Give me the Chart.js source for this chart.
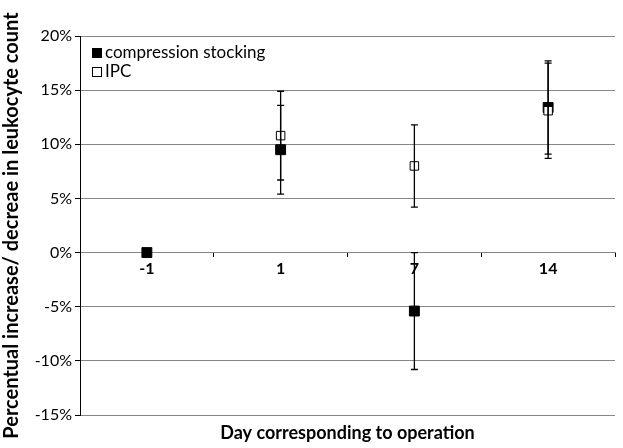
<!DOCTYPE html>
<html>
<head>
    <title>Leukocyte count</title>
    <script src="https://cdn.jsdelivr.net/npm/chart.js"></script>
    <style>
        body { margin: 0; background: #fff; }
        #wrap { position: relative; width: 623px; height: 448px; }
        .leg { position: absolute; left: 92px; font: 17px Lato, sans-serif; color: #000; line-height: 19px; }
        .leg span { display: inline-block; width: 8px; height: 8px; border: 1px solid #000; margin-right: 3px; vertical-align: 0px; }
    </style>
</head>
<body>
<div id="wrap">
    <canvas id="chart" width="623" height="448"></canvas>
    <div class="leg" style="top: 42px;"><span style="background:#000"></span>compression stocking</div>
    <div class="leg" style="top: 61px;"><span style="background:#fff"></span>IPC</div>
</div>

<script>
    const days = ['-1', '1', '7', '14'];
    const stocking = [0, 9.5, -5.4, 13.4];
    const stockingErr = [null, 4.1, 5.4, 4.3];
    const ipc = [null, 10.8, 8.0, 13.1];
    const ipcErr = [null, 4.1, 3.8, 4.4];
    const yTicks = [-15, -10, -5, 0, 5, 10, 15, 20];

    const errorBars = {
        id: 'errorBars',
        afterDatasetsDraw(chart) {
            const ctx = chart.ctx;
            const y = chart.scales.y;
            ctx.save();
            ctx.strokeStyle = '#000';
            ctx.lineWidth = 1.3;
            chart.data.datasets.forEach((ds, i) => {
                const meta = chart.getDatasetMeta(i);
                meta.data.forEach((pt, j) => {
                    const v = ds.data[j], e = ds.err[j];
                    if (v == null || e == null) return;
                    const top = y.getPixelForValue(v + e);
                    const bot = y.getPixelForValue(v - e);
                    ctx.beginPath();
                    ctx.moveTo(pt.x, top); ctx.lineTo(pt.x, bot);
                    ctx.moveTo(pt.x - 3.5, top); ctx.lineTo(pt.x + 3.5, top);
                    ctx.moveTo(pt.x - 3.5, bot); ctx.lineTo(pt.x + 3.5, bot);
                    ctx.stroke();
                });
            });
            ctx.restore();
        }
    };

    Chart.defaults.font.family = 'Lato, sans-serif';
    Chart.defaults.color = '#000';

    new Chart(document.getElementById('chart'), {
        type: 'line',
        data: {
            labels: days,
            datasets: [{
                label: 'IPC',
                data: ipc,
                err: ipcErr,
                order: 0,
                showLine: false,
                pointStyle: 'rect',
                pointRadius: 6,
                pointBorderWidth: 1,
                pointBackgroundColor: '#fff',
                pointBorderColor: '#000'
            }, {
                label: 'compression stocking',
                data: stocking,
                err: stockingErr,
                order: 1,
                showLine: false,
                pointStyle: 'rect',
                pointRadius: 7,
                pointBorderWidth: 1,
                pointBackgroundColor: '#000',
                pointBorderColor: '#000'
            }]
        },
        options: {
            responsive: false,
            animation: false,
            layout: { padding: { top: 36, right: 0, left: 0 } },
            plugins: { legend: { display: false }, tooltip: { enabled: false } },
            scales: {
                x: {
                    offset: true,
                    ticks: { display: false },
                    grid: { display: false },
                    border: { display: false },
                    title: {
                        display: true,
                        text: 'Day corresponding to operation',
                        font: { size: 18, weight: 'bold' },
                        padding: { top: 0, bottom: 4 }
                    },
                    afterFit: s => { s.height = 33; }
                },
                x2: {
                    type: 'category',
                    labels: days,
                    position: { y: 0 },
                    offset: true,
                    grid: { offset: true, drawOnChartArea: false, tickLength: 4, color: '#000' },
                    border: { color: '#868686' },
                    ticks: { font: { size: 16, weight: 'bold' }, padding: 3 },
                    afterFit: s => { s.height = 0; }
                },
                y: {
                    min: -15,
                    max: 20,
                    afterBuildTicks: s => { s.ticks = yTicks.map(v => ({ value: v })); },
                    ticks: { callback: v => v + '%', font: { size: 16 }, padding: 3 },
                    grid: { color: '#868686', tickColor: '#000', tickLength: 5 },
                    border: { color: '#000' },
                    title: {
                        display: true,
                        text: 'Percentual increase/ decreae in leukocyte count',
                        font: { size: 20, weight: 'bold' },
                        padding: { top: 0, bottom: 0 }
                    },
                    afterFit: s => { s.width = 80; }
                }
            }
        },
        plugins: [errorBars]
    });
</script>
</body>
</html>
